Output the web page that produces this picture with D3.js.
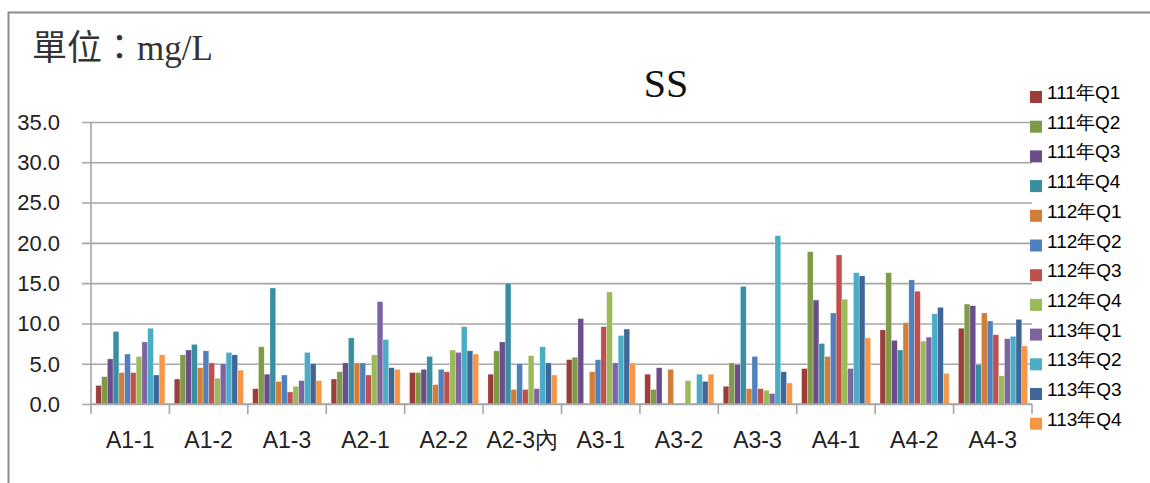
<!DOCTYPE html>
<html>
<head>
<meta charset="utf-8">
<script src="https://cdn.jsdelivr.net/npm/d3@7"></script>
<style>
  body { margin: 0; background: #fff; }
</style>
</head>
<body>
<div id="chart"></div>
<script>
// SS (mg/L) by sampling station, quarterly 111–113

const categories = ["A1-1", "A1-2", "A1-3", "A2-1", "A2-2", "A2-3內",
                    "A3-1", "A3-2", "A3-3", "A4-1", "A4-2", "A4-3"];

const seriesNames = ["111年Q1", "111年Q2", "111年Q3", "111年Q4",
                     "112年Q1", "112年Q2", "112年Q3", "112年Q4",
                     "113年Q1", "113年Q2", "113年Q3", "113年Q4"];

// one array per quarter, in category order (null = no bar)
const s111Q1 = [2.3, 3.1, 1.9, 3.1, 3.9, 3.7, 5.5, 3.7, 2.2, 4.4, 9.2, 9.4];
const s111Q2 = [3.4, 6.1, 7.1, 4.0, 3.9, 6.6, 5.8, 1.8, 5.1, 18.9, 16.3, 12.4];
const s111Q3 = [5.6, 6.7, 3.7, 5.1, 4.3, 7.7, 10.6, 4.5, 4.9, 12.9, 7.9, 12.2];
const s111Q4 = [9.0, 7.4, 14.4, 8.2, 5.9, 15.0, null, null, 14.6, 7.5, 6.7, 4.9];
const s112Q1 = [3.9, 4.5, 2.8, 5.1, 2.4, 1.8, 4.0, 4.3, 1.9, 5.9, 10.1, 11.3];
const s112Q2 = [6.2, 6.6, 3.6, 5.1, 4.3, 5.0, 5.5, null, 5.9, 11.3, 15.4, 10.3];
const s112Q3 = [3.9, 5.1, 1.5, 3.6, 4.0, 1.8, 9.6, null, 1.9, 18.5, 14.0, 8.6];
const s112Q4 = [5.9, 3.2, 2.2, 6.1, 6.7, 6.0, 13.9, 2.9, 1.7, 13.0, 7.8, 3.5];
const s113Q1 = [7.7, 5.0, 2.9, 12.7, 6.4, 1.9, 5.1, null, 1.3, 4.4, 8.3, 8.1];
const s113Q2 = [9.4, 6.4, 6.4, 8.0, 9.6, 7.1, 8.5, 3.7, 20.9, 16.3, 11.2, 8.4];
const s113Q3 = [3.6, 6.1, 5.0, 4.5, 6.6, 5.1, 9.3, 2.8, 4.0, 15.9, 12.0, 10.5];
const s113Q4 = [6.1, 4.2, 2.9, 4.3, 6.2, 3.6, 5.1, 3.7, 2.6, 8.2, 3.8, 7.2];

const yTicks = [0, 5, 10, 15, 20, 25, 30, 35];

const seriesValues = [s111Q1, s111Q2, s111Q3, s111Q4, s112Q1, s112Q2,
                      s112Q3, s112Q4, s113Q1, s113Q2, s113Q3, s113Q4];

const COLORS = ["#9d3d3a", "#7f9b47", "#6a4d8a", "#3a8ea2", "#d17e39", "#4f81bd",
                "#c0504d", "#9bbb59", "#8064a2", "#4bacc6", "#3f6698", "#f79646"];

const W = 1150, H = 483;
const plot = { left: 91, right: 1032, top: 122, bottom: 404 };

const svg = d3.select("#chart").append("svg")
  .attr("width", W).attr("height", H)
  .style("font-family", "'Liberation Sans', Arial, sans-serif");

// outer frame (only top and left edges are visible in the crop)
svg.append("path")
  .attr("d", `M8.5,${H} V12.5 H${W}`)
  .attr("fill", "none").attr("stroke", "#8c8c8c").attr("stroke-width", 2);

// unit label and title
svg.append("text")
  .attr("x", 32).attr("y", 60)
  .attr("font-family", "'Liberation Serif', 'Noto Sans CJK TC', serif")
  .attr("font-size", 35).attr("fill", "#333")
  .text("單位：mg/L");

svg.append("text")
  .attr("x", 666).attr("y", 97)
  .attr("text-anchor", "middle")
  .attr("font-family", "'Liberation Serif', serif")
  .attr("font-size", 40).attr("fill", "#111")
  .text("SS");

const x0 = d3.scaleBand().domain(categories).range([plot.left, plot.right]);
const x1 = d3.scaleBand().domain(seriesNames)
  .range([x0.bandwidth() * 0.062, x0.bandwidth() * 0.943]);
const y = d3.scaleLinear().domain([0, 35]).range([plot.bottom, plot.top]);

// horizontal gridlines, stretched left past the axis so they double as ticks
svg.append("g")
  .attr("transform", `translate(${plot.left},0)`)
  .call(d3.axisLeft(y).tickValues(yTicks)
    .tickSize(-(plot.right - plot.left)).tickPadding(0).tickFormat(""))
  .call(g => g.select(".domain").remove())
  .call(g => g.selectAll(".tick line")
    .attr("x1", -9).attr("stroke", "#a6a6a6").attr("stroke-width", 1.6));

// y tick labels
svg.append("g")
  .selectAll("text")
  .data(yTicks)
  .join("text")
  .attr("x", 60).attr("y", d => y(d))
  .attr("dy", "0.36em")
  .attr("text-anchor", "end")
  .attr("font-size", 22).attr("fill", "#222")
  .text(d => d.toFixed(1));

// bars
const groups = svg.append("g")
  .selectAll("g")
  .data(categories)
  .join("g")
  .attr("transform", d => `translate(${x0(d)},0)`);

groups.selectAll("rect")
  .data((c, i) => seriesNames.map((s, k) => ({ s, k, v: seriesValues[k][i] }))
    .filter(d => d.v != null))
  .join("rect")
  .attr("x", d => x1(d.s))
  .attr("width", x1.bandwidth())
  .attr("y", d => y(d.v))
  .attr("height", d => y(0) - y(d.v))
  .attr("fill", d => COLORS[d.k])
  .attr("stroke", "#fff").attr("stroke-opacity", 0.45).attr("stroke-width", 0.6);

// y axis line
svg.append("line")
  .attr("x1", plot.left).attr("x2", plot.left)
  .attr("y1", plot.top).attr("y2", plot.bottom)
  .attr("stroke", "#a6a6a6").attr("stroke-width", 1.6);

// x axis: category boundaries as ticks, labels centred below
const xAxis = svg.append("g").attr("transform", `translate(0,${plot.bottom})`);
xAxis.append("line")
  .attr("x1", plot.left).attr("x2", plot.right)
  .attr("stroke", "#a6a6a6").attr("stroke-width", 1.6);
xAxis.selectAll(".xtick")
  .data(categories.concat([null]))
  .join("line")
  .attr("class", "xtick")
  .attr("x1", (d, i) => plot.left + i * x0.step())
  .attr("x2", (d, i) => plot.left + i * x0.step())
  .attr("y1", 0).attr("y2", 10)
  .attr("stroke", "#a6a6a6").attr("stroke-width", 1.6);
xAxis.selectAll(".xlab")
  .data(categories)
  .join("text")
  .attr("class", "xlab")
  .attr("x", d => x0(d) + x0.bandwidth() / 2)
  .attr("y", 44)
  .attr("text-anchor", "middle")
  .attr("font-size", 23).attr("fill", "#222")
  .text(d => d);

// legend
const legend = svg.append("g")
  .selectAll("g")
  .data(seriesNames)
  .join("g")
  .attr("transform", (d, i) => `translate(1030,${91 + i * 29.7})`);

legend.append("rect")
  .attr("x", 0).attr("y", 0)
  .attr("width", 12).attr("height", 12)
  .attr("fill", (d, i) => COLORS[i]);

legend.append("text")
  .attr("x", 17).attr("y", 8)
  .attr("font-size", 19).attr("fill", "#000")
  .text(d => d);
</script>
</body>
</html>
